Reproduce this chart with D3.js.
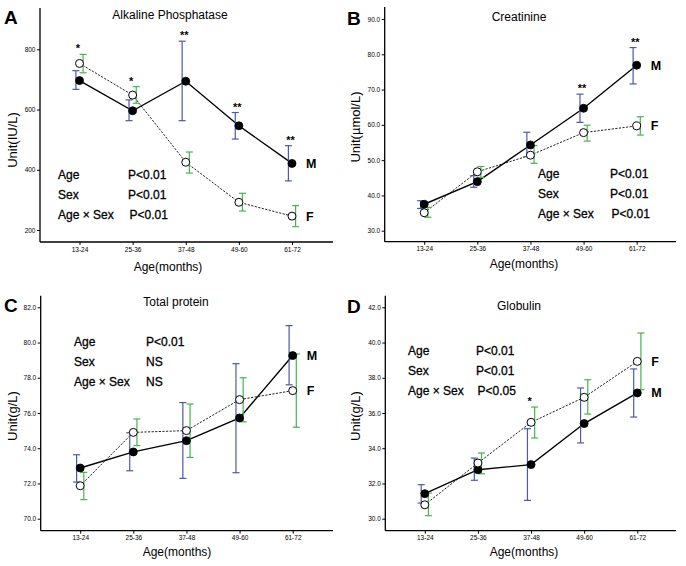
<!DOCTYPE html>
<html><head><meta charset="utf-8">
<script src="https://cdn.jsdelivr.net/npm/d3@7"></script>
<style>
body{margin:0;background:#fff}
svg{display:block}
text{font-family:"Liberation Sans",Arial,Helvetica,sans-serif;fill:#000}
</style>
</head><body>
<svg id="chart" width="686" height="566"></svg>
<script>
// ---------------- DATA ----------------
const categories = ["13-24", "25-36", "37-48", "49-60", "61-72"];

// A: Alkaline Phosphatase (IU/L)
const alpTicks = [200, 400, 600, 800];
const alpM   = [696, 596, 694, 546, 421];
const alpMLo = [667, 563, 563, 502, 363];
const alpMHi = [729, 632, 827, 590, 480];
const alpF   = [753, 648, 425, 292, 246];
const alpFLo = [722, 621, 389, 263, 211];
const alpFHi = [783, 676, 459, 322, 281];
const alpStars = ["*", "*", "**", "**", "**"];
const alpStats = [["Age", "P<0.01"], ["Sex", "P<0.01"], ["Age × Sex", "P<0.01"]];

// B: Creatinine (µmol/L)
const creTicks = [30, 40, 50, 60, 70, 80, 90];
const creM   = [37.5, 43.9, 54.3, 64.7, 76.9];
const creMLo = [36.3, 42.3, 51.0, 60.7, 71.6];
const creMHi = [38.5, 45.6, 57.9, 68.7, 81.9];
const creF   = [35.1, 46.7, 51.4, 57.8, 59.7];
const creFLo = [33.8, 45.1, 49.1, 55.4, 57.1];
const creFHi = [36.6, 48.2, 54.1, 59.9, 62.3];
const creStars = ["", "", "", "**", "**"];
const creStats = [["Age", "P<0.01"], ["Sex", "P<0.01"], ["Age × Sex", "P<0.01"]];

// C: Total protein (g/L)
const tpTicks = [70, 72, 74, 76, 78, 80, 82];
const tpM   = [72.88, 73.79, 74.43, 75.72, 79.26];
const tpMLo = [72.08, 72.72, 72.29, 72.61, 77.60];
const tpMHi = [73.63, 74.88, 76.59, 78.80, 80.96];
const tpF   = [71.87, 74.90, 75.00, 76.76, 77.27];
const tpFLo = [71.08, 74.15, 73.48, 75.50, 75.19];
const tpFHi = [72.63, 75.66, 76.51, 78.00, 79.35];
const tpStars = ["", "", "", "", ""];
const tpStats = [["Age", "P<0.01"], ["Sex", "NS"], ["Age × Sex", "NS"]];

// D: Globulin (g/L)
const gloTicks = [30, 32, 34, 36, 38, 40, 42];
const gloM   = [31.42, 32.78, 33.07, 35.40, 37.14];
const gloMLo = [30.89, 32.18, 31.04, 34.30, 35.77];
const gloMHi = [31.93, 33.44, 35.11, 37.42, 38.50];
const gloF   = [30.79, 33.16, 35.47, 36.89, 38.93];
const gloFLo = [30.17, 32.55, 34.58, 35.94, 37.32];
const gloFHi = [31.46, 33.73, 36.34, 37.89, 40.54];
const gloStars = ["", "", "*", "", ""];
const gloStats = [["Age", "P<0.01"], ["Sex", "P<0.01"], ["Age × Sex", "P<0.05"]];

// ---------------- LAYOUT ----------------
const BLUE = "#4b5aa8", GREEN = "#46b450";
const panels = [
  {letter:"A", title:"Alkaline Phosphatase", yLabel:"Unit(IU/L)", ox:0, oy:0,
   axisX:40, top:8, bottom:242, right:333, t0:230, t1:49.3, ticks:alpTicks, fmt:d3.format("d"),
   M:alpM, MLo:alpMLo, MHi:alpMHi, F:alpF, FLo:alpFLo, FHi:alpFHi, stars:alpStars, stats:alpStats,
   titleX:170, titleY:19, letterY:24, ylabY:140, xlabX:168, xlabY:271, statX:58, pX:128, statY:175},
  {letter:"B", title:"Creatinine", yLabel:"Unit(µmol/L)", ox:343, oy:0,
   axisX:41.7, top:7, bottom:241.7, right:333, t0:230.7, t1:19, ticks:creTicks, fmt:d3.format(".1f"),
   M:creM, MLo:creMLo, MHi:creMHi, F:creF, FLo:creFLo, FHi:creFHi, stars:creStars, stats:creStats,
   titleX:176, titleY:21, letterY:25, ylabY:127, xlabX:181, xlabY:268, statX:195, pX:267, statY:174},
  {letter:"C", title:"Total protein", yLabel:"Unit(g/L)", ox:0, oy:283,
   axisX:40.7, top:12.7, bottom:247.7, right:333, t0:235.7, t1:24.3, ticks:tpTicks, fmt:d3.format(".1f"),
   M:tpM, MLo:tpMLo, MHi:tpMHi, F:tpF, FLo:tpFLo, FHi:tpFHi, stars:tpStars, stats:tpStats,
   titleX:176, titleY:23, letterY:29, ylabY:133, xlabX:177, xlabY:273, statX:74, pX:146, statY:59},
  {letter:"D", title:"Globulin", yLabel:"Unit(g/L)", ox:343, oy:283,
   axisX:42.3, top:12.7, bottom:247.7, right:333, t0:235.7, t1:24.3, ticks:gloTicks, fmt:d3.format(".1f"),
   M:gloM, MLo:gloMLo, MHi:gloMHi, F:gloF, FLo:gloFLo, FHi:gloFHi, stars:gloStars, stats:gloStats,
   titleX:176, titleY:27, letterY:30, ylabY:133, xlabX:181, xlabY:273, statX:65, pX:133, statY:68}
];

const svg = d3.select("#chart");
svg.append("rect").attr("width",686).attr("height",566).attr("fill","#fff");

panels.forEach(p => {
  const g = svg.append("g").attr("transform", `translate(${p.ox},${p.oy})`);
  const ticks = p.ticks;
  const y = d3.scaleLinear().domain([ticks[0], ticks[ticks.length-1]]).range([p.t0, p.t1]);
  const x = d3.scalePoint().domain(categories).range([p.axisX + 39.5, p.axisX + 252]);

  // y axis
  const yAxis = d3.axisLeft(y).tickValues(ticks).tickFormat(p.fmt).tickSize(3).tickPadding(1.5);
  const ya = g.append("g").attr("transform", `translate(${p.axisX},0)`).call(yAxis);
  ya.select(".domain").remove();
  ya.selectAll(".tick line").attr("stroke","#000").attr("stroke-width",1);
  ya.selectAll(".tick text").attr("font-size","6.5px").attr("font-family","'Liberation Sans',Arial,sans-serif").attr("fill","#000");
  g.append("line").attr("x1",p.axisX).attr("x2",p.axisX).attr("y1",p.top).attr("y2",p.bottom)
    .attr("stroke","#000").attr("stroke-width",1.3);

  // x axis
  const xAxis = d3.axisBottom(x).tickSize(3).tickPadding(2);
  const xa = g.append("g").attr("transform", `translate(0,${p.bottom})`).call(xAxis);
  xa.select(".domain").remove();
  xa.selectAll(".tick line").attr("stroke","#000").attr("stroke-width",1);
  xa.selectAll(".tick text").attr("font-size","6.5px").attr("font-family","'Liberation Sans',Arial,sans-serif").attr("fill","#000");
  g.append("line").attr("x1",p.axisX).attr("x2",p.right).attr("y1",p.bottom).attr("y2",p.bottom)
    .attr("stroke","#000").attr("stroke-width",1.3);

  // labels
  g.append("text").attr("x",4).attr("y",p.letterY).attr("font-size","19px").attr("font-weight","bold").text(p.letter);
  g.append("text").attr("x",p.titleX).attr("y",p.titleY).attr("text-anchor","middle").attr("font-size","12px").text(p.title);
  g.append("text").attr("transform",`translate(17,${p.ylabY}) rotate(-90)`).attr("text-anchor","middle")
    .attr("font-size","13px").text(p.yLabel);
  g.append("text").attr("x",p.xlabX).attr("y",p.xlabY).attr("text-anchor","middle").attr("font-size","12px").text("Age(months)");

  const idx = d3.range(categories.length);
  // lines
  const lineF = d3.line().x(i => x(categories[i])).y(i => y(p.F[i]));
  const lineM = d3.line().x(i => x(categories[i])).y(i => y(p.M[i]));
  g.append("path").attr("d", lineF(idx)).attr("fill","none").attr("stroke","#222").attr("stroke-width",1)
    .attr("stroke-dasharray","2.2,1.4");
  g.append("path").attr("d", lineM(idx)).attr("fill","none").attr("stroke","#000").attr("stroke-width",1.4);

  // error bars
  const bars = [
    {lo:p.MLo, hi:p.MHi, dx:-3.6, color:BLUE},
    {lo:p.FLo, hi:p.FHi, dx:3.6, color:GREEN}
  ];
  bars.forEach(b => {
    const eb = g.append("g").attr("stroke", b.color).attr("stroke-width",1.2);
    idx.forEach(i => {
      const cx = x(categories[i]) + b.dx;
      eb.append("line").attr("x1",cx).attr("x2",cx).attr("y1",y(b.lo[i])).attr("y2",y(b.hi[i]));
      eb.append("line").attr("x1",cx-3.5).attr("x2",cx+3.5).attr("y1",y(b.lo[i])).attr("y2",y(b.lo[i]));
      eb.append("line").attr("x1",cx-3.5).attr("x2",cx+3.5).attr("y1",y(b.hi[i])).attr("y2",y(b.hi[i]));
    });
  });

  // points
  g.selectAll(null).data(idx).enter().append("circle")
    .attr("cx", i => x(categories[i])).attr("cy", i => y(p.M[i])).attr("r",4)
    .attr("fill","#000").attr("stroke","#000").attr("stroke-width",0.8);
  g.selectAll(null).data(idx).enter().append("circle")
    .attr("cx", i => x(categories[i])).attr("cy", i => y(p.F[i])).attr("r",4)
    .attr("fill","#fff").attr("stroke","#000").attr("stroke-width",1);

  // stars
  idx.forEach(i => {
    if (!p.stars[i]) return;
    const top = Math.min(y(p.MHi[i]), y(p.FHi[i]));
    g.append("text").attr("x", x(categories[i]) - 1.5).attr("y", top - 2)
      .attr("text-anchor","middle").attr("font-size","11px").attr("font-weight","bold").text(p.stars[i]);
  });

  // M / F labels
  const last = categories.length - 1;
  const lx = x(categories[last]) + 14;
  g.append("text").attr("x",lx).attr("y",y(p.M[last])).attr("dy","0.36em")
    .attr("font-size","12.5px").attr("font-weight","bold").text("M");
  g.append("text").attr("x",lx).attr("y",y(p.F[last])).attr("dy","0.36em")
    .attr("font-size","12.5px").attr("font-weight","bold").text("F");

  // stats
  p.stats.forEach((s, k) => {
    const yy = p.statY + k * 20;
    g.append("text").attr("x",p.statX).attr("y",yy).attr("dy","0.36em").attr("font-size","12px")
      .attr("stroke","#000").attr("stroke-width",0.3).text(s[0]);
    g.append("text").attr("x",p.pX + (k === 2 && s[1] !== "NS" ? 1.5 : 0)).attr("y",yy).attr("dy","0.36em").attr("font-size","12px")
      .attr("stroke","#000").attr("stroke-width",0.3).text(s[1]);
  });
});
</script>
</body></html>
